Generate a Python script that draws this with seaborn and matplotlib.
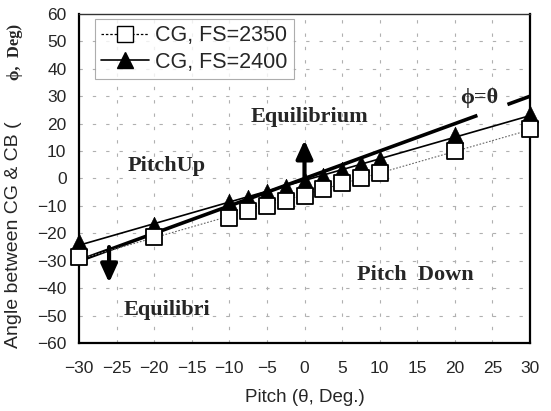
import matplotlib
matplotlib.use("Agg")
import matplotlib.pyplot as plt
import seaborn as sns
import numpy as np
import pandas as pd
from matplotlib.lines import Line2D

# ---- data ----
pitch_2350 = [-30, -20, -10, -7.5, -5, -2.5, 0, 2.5, 5, 7.5, 10, 20, 30]
angle_2350 = [-28.5, -21.5, -14.5, -12, -10, -8.3, -6.4, -3.8, -1.8, 0.3, 2.1, 10, 18.2]
pitch_2400 = [-30, -20, -10, -7.5, -5, -2.5, 0, 2.5, 5, 7.5, 10, 20, 30]
angle_2400 = [-23, -17, -8.5, -7, -5, -3, -1, 0.8, 3, 5.3, 7, 15.8, 23.4]
ref_x1 = [-30, 23]
ref_x2 = [27, 30]
x_ticks = [-30, -25, -20, -15, -10, -5, 0, 5, 10, 15, 20, 25, 30]
y_ticks = [-60, -50, -40, -30, -20, -10, 0, 10, 20, 30, 40, 50, 60]
labels = ["CG, FS=2350", "CG, FS=2400"]

df1 = pd.DataFrame({"pitch": pitch_2350, "angle": angle_2350})
df2 = pd.DataFrame({"pitch": pitch_2400, "angle": angle_2400})

sns.set_style("white")
plt.rcParams["font.family"] = ["Liberation Sans", "DejaVu Sans"]

fig = plt.figure(figsize=(5.51, 4.11), dpi=100)
ax = fig.add_axes([79/551, 1 - 343/411, (530-79)/551, (343-14)/411])

# grid
for gx in x_ticks[1:-1]:
    ax.axvline(gx, color="#b0b0b0", lw=0.8, ls=(0, (3, 9)), zorder=0)
for gy in y_ticks[1:-1]:
    ax.axhline(gy, color="#b0b0b0", lw=0.8, ls=(0, (3, 9)), zorder=0)

# phi = theta reference line
ax.plot(ref_x1, ref_x1, color="black", lw=2.6, zorder=2, solid_capstyle="butt")
ax.plot(ref_x2, ref_x2, color="black", lw=2.6, zorder=2, solid_capstyle="butt")

# fit lines
sns.regplot(data=df1, x="pitch", y="angle", ax=ax, scatter=False, ci=None,
            line_kws=dict(color="#666666", lw=0.8, ls=(0, (1.5, 1.5)), zorder=2))
sns.regplot(data=df2, x="pitch", y="angle", ax=ax, scatter=False, ci=None,
            line_kws=dict(color="black", lw=1.2, zorder=2))

# markers
sns.scatterplot(data=df1, x="pitch", y="angle", ax=ax, marker="s", s=120,
                facecolor="white", edgecolor="black", linewidth=1.3, zorder=4,
                clip_on=False)
sns.scatterplot(data=df2, x="pitch", y="angle", ax=ax, marker="^", s=140,
                color="black", edgecolor="black", linewidth=0.5, zorder=3,
                clip_on=False)

# arrows
astyle = "-|>,head_width=0.25,head_length=0.55"
ax.annotate("", xy=(0, 14), xytext=(0, -1),
            arrowprops=dict(arrowstyle=astyle, color="black", lw=3,
                            shrinkA=0, shrinkB=0, mutation_scale=20), zorder=5)
ax.annotate("", xy=(-26, -38), xytext=(-26, -25),
            arrowprops=dict(arrowstyle=astyle, color="black", lw=3,
                            shrinkA=0, shrinkB=0, mutation_scale=20), zorder=5)

# annotations
tkw = dict(family=["Liberation Serif", "DejaVu Serif"], fontweight="bold",
           fontsize=16, ha="center", va="center")
ax.text(-18.4, 4.4, "PitchUp", **tkw)
ax.text(0.7, 22.3, "Equilibrium", **tkw)
ax.text(-18.3, -48, "Equilibri", **tkw)
ax.text(14.7, -35.2, "Pitch  Down", **tkw)
ax.text(23.2, 29.5, "ϕ=θ", **tkw)

ax.set_xlim(-30, 30)
ax.set_ylim(-60, 60)
ax.set_xticks(x_ticks)
ax.set_yticks(y_ticks)
ax.set_xticklabels([str(t).replace("-", "\u2212") for t in x_ticks])
ax.set_yticklabels([str(t).replace("-", "\u2212") for t in y_ticks])
ax.tick_params(axis="both", length=0, labelsize=12.5)
ax.tick_params(axis="y", pad=9)
ax.tick_params(axis="x", pad=13)

ax.set_xlabel("Pitch (θ, Deg.)", fontsize=13.5, labelpad=9)
ax.set_ylabel("")
fig.text(0.024, (411-235)/411, "Angle between CG & CB (", rotation=90,
         fontsize=14, ha="center", va="center")
fig.text(0.028, (411-52)/411, "ϕ,  Deg)", rotation=90,
         family=["Liberation Serif", "DejaVu Serif"], fontweight="bold",
         fontsize=12, ha="center", va="center")

for s in ["left", "bottom", "right"]:
    ax.spines[s].set_color("black")
    ax.spines[s].set_linewidth(1.6)
ax.spines["top"].set_color("#333333")
ax.spines["top"].set_linewidth(1.0)

handles = [
    Line2D([0], [0], color="black", lw=0.9, ls=(0, (2, 1.5)), marker="s",
           markersize=11, markerfacecolor="white", markeredgecolor="black"),
    Line2D([0], [0], color="black", lw=1.2, marker="^", markersize=11,
           markerfacecolor="black", markeredgecolor="black"),
]
leg = ax.legend(handles, labels, loc="upper left", bbox_to_anchor=(0.035, 0.985),
                fontsize=15.5, frameon=True, fancybox=False, handlelength=2.2,
                handletextpad=0.3, borderpad=0.3, labelspacing=0.25,
                borderaxespad=0.0)
leg.get_frame().set_edgecolor("#999999")
leg.get_frame().set_linewidth(0.8)

fig.savefig("out.png", dpi=100)
